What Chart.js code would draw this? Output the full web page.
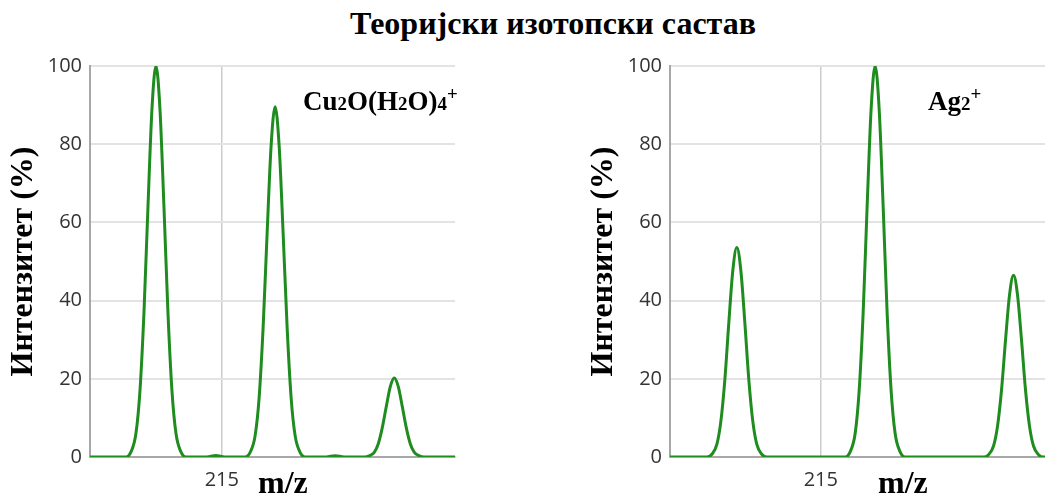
<!DOCTYPE html>
<html>
<head>
<meta charset="utf-8">
<script src="https://cdn.jsdelivr.net/npm/chart.js@4"></script>
<style>
  body { margin: 0; background: #fff; }
  #page { position: relative; width: 1045px; height: 495px; overflow: hidden; background: #fff; }
  .serif { position: absolute; font-family: "Liberation Serif", "Times New Roman", serif; font-weight: bold; color: #000; white-space: nowrap; }
  #title { left: 350px; top: 5px; font-size: 32px; }
  .mz { font-size: 32px; top: 464px; }
  .formula { font-size: 27px; }
  .formula .sub { font-size: 0.7em; }
  .formula sup { font-size: 0.7em; vertical-align: 0.55em; line-height: 0; }
  .box { position: absolute; top: 0; }
</style>
</head>
<body>
<div id="page">
  <div id="title" class="serif">Теоријски изотопски састав</div>

  <div class="box" style="left:0px"><canvas id="cuChart" width="460" height="495"></canvas></div>
  <div class="box" style="left:580px"><canvas id="agChart" width="465" height="495"></canvas></div>

  <div class="serif formula" style="left:303px; top:86px">Cu<span class="sub">2</span>O(H<span class="sub">2</span>O)<span class="sub">4</span><sup>+</sup></div>
  <div class="serif formula" style="left:928px; top:86px">Ag<span class="sub">2</span><sup>+</sup></div>

  <div class="serif mz" style="left:258px">m/z</div>
  <div class="serif mz" style="left:878px">m/z</div>
</div>

<script>
// Cu2O(H2O)4+ profile: m/z and relative intensity (%)
const cuMz = [
  212.79,
  213.393, 213.477, 213.560, 213.628, 213.695, 213.762, 213.829, 213.896,
  213.963, 214.030, 214.097, 214.164, 214.232, 214.315, 214.399,
  214.75, 214.90, 215.05,
  215.391, 215.475, 215.558, 215.626, 215.693, 215.760, 215.827, 215.894,
  215.961, 216.028, 216.095, 216.162, 216.230, 216.313, 216.397,
  216.75, 216.90, 217.05,
  217.389, 217.473, 217.556, 217.624, 217.691, 217.758, 217.825, 217.892,
  217.959, 218.026, 218.093, 218.160, 218.228, 218.311, 218.395,
  218.91
];
const cuIntensity = [
  0,
  0, 1.3, 6, 17, 37, 64, 89, 100,
  89, 64, 37, 17, 6, 1.3, 0,
  0, 0.4, 0,
  0, 1.2, 5.4, 15.2, 33.2, 57.3, 79.7, 89.6,
  79.7, 57.3, 33.2, 15.2, 5.4, 1.2, 0,
  0, 0.35, 0,
  0, 0.3, 1.2, 3.4, 7.5, 12.9, 18.0, 20.2,
  18.0, 12.9, 7.5, 3.4, 1.2, 0.3, 0,
  0
];

// Ag2+ profile
const agMz = [
  212.82,
  213.352, 213.425, 213.497, 213.555, 213.613, 213.670, 213.728, 213.786,
  213.844, 213.902, 213.959, 214.017, 214.075, 214.147, 214.220,
  215.351, 215.424, 215.496, 215.554, 215.612, 215.669, 215.727, 215.785,
  215.843, 215.901, 215.958, 216.016, 216.074, 216.146, 216.219,
  217.351, 217.424, 217.496, 217.554, 217.612, 217.669, 217.727, 217.785,
  217.843, 217.901, 217.958, 218.016, 218.074, 218.146, 218.219,
  218.24
];
const agIntensity = [
  0,
  0, 0.7, 3.2, 9.1, 19.8, 34.3, 47.7, 53.6,
  47.7, 34.3, 19.8, 9.1, 3.2, 0.7, 0,
  0, 1.3, 6, 17, 37, 64, 89, 100,
  89, 64, 37, 17, 6, 1.3, 0,
  0, 0.6, 2.8, 7.9, 17.2, 29.8, 41.4, 46.5,
  41.4, 29.8, 17.2, 7.9, 2.8, 0.6, 0,
  0
];

const xTicks = [215];
const yTicks = [0, 20, 40, 60, 80, 100];
const yTitle = 'Интензитет (%)';

function makeChart(id, mz, intensity, xMin, xMax, rightPad) {
  const points = mz.map((m, i) => ({ x: m, y: intensity[i] }));
  return new Chart(document.getElementById(id), {
    type: 'line',
    data: {
      datasets: [{
        data: points,
        borderColor: '#1f8c1f',
        borderWidth: 3,
        pointRadius: 0,
        fill: false,
        cubicInterpolationMode: 'monotone'
      }]
    },
    options: {
      responsive: false,
      animation: false,
      devicePixelRatio: 1,
      layout: { padding: { top: 66, right: rightPad, left: 0, bottom: 0 } },
      plugins: { legend: { display: false }, tooltip: { enabled: false } },
      scales: {
        x: {
          type: 'linear',
          min: xMin,
          max: xMax,
          afterBuildTicks: axis => { axis.ticks = xTicks.map(v => ({ value: v })); },
          afterFit: scale => { scale.height = 38; },
          grid: { color: '#cccccc', lineWidth: 1.5, drawTicks: false },
          border: { color: '#a8a8a8', width: 2 },
          ticks: {
            font: { family: 'Open Sans', size: 20 },
            color: '#333',
            padding: 11,
            maxRotation: 0
          }
        },
        y: {
          min: 0,
          max: 100,
          afterBuildTicks: axis => { axis.ticks = yTicks.map(v => ({ value: v })); },
          afterFit: scale => { scale.width = 90; },
          grid: { color: '#e3e3e3', lineWidth: 2, drawTicks: false },
          border: { color: '#a8a8a8', width: 2 },
          ticks: {
            font: { family: 'Open Sans', size: 20 },
            color: '#333',
            padding: 8
          },
          title: {
            display: true,
            text: yTitle,
            color: '#000',
            font: { family: 'Liberation Serif', size: 32, weight: 'bold' },
            padding: { top: 5, bottom: 0 }
          }
        }
      }
    }
  });
}

makeChart('cuChart', cuMz, cuIntensity, 212.79, 218.91, 5);
makeChart('agChart', agMz, agIntensity, 212.82, 218.24, 0);
</script>
</body>
</html>
